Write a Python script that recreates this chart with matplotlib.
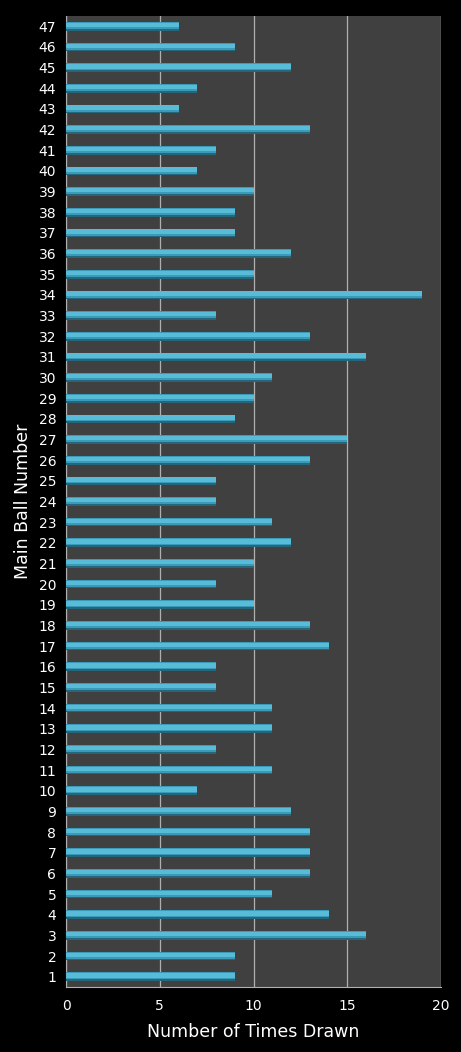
import numpy as np
import matplotlib.pyplot as plt

# ----------------------------
# Dados
# ----------------------------
balls = np.arange(1, 48)
times_drawn = [9, 9, 16, 14, 11, 13, 13, 13, 12, 7,
               11, 8, 11, 11, 8, 8, 14, 13, 10, 8,
               10, 12, 11, 8, 8, 13, 15, 9, 10, 11,
               16, 13, 8, 19, 10, 12, 9, 9, 10, 7,
               8, 13, 6, 7, 12, 9, 6]
x_ticks = [0, 5, 10, 15, 20]

# ----------------------------
# Figura
# ----------------------------
fig = plt.figure(figsize=(4.61, 10.52), dpi=100, facecolor='black')
ax = fig.add_axes([66/461, 1-987/1052, 375/461, 971/1052])
ax.set_facecolor('#404040')

h = 0.42
# barra com sombreamento simples
ax.barh(balls, times_drawn, height=h, color='#3b9ab8', edgecolor='none', zorder=3)
ax.barh(balls + h*0.15, times_drawn, height=h*0.5, color='#58bcd9', edgecolor='none', zorder=4)
ax.barh(balls - h*0.4, times_drawn, height=h*0.2, color='#24667a', edgecolor='none', zorder=5)

ax.set_xlim(0, 20)
ax.set_ylim(0.5, 47.5)
ax.set_xticks(x_ticks)
ax.set_yticks(balls)
ax.set_yticklabels([str(b) for b in balls])

ax.grid(axis='x', color='#b0b0b0', linewidth=0.9, zorder=1)
ax.tick_params(colors='white', labelsize=10, length=0, pad=7)
ax.tick_params(axis='x', pad=9)
for s in ['top', 'right']:
    ax.spines[s].set_visible(False)
for s in ['left', 'bottom']:
    ax.spines[s].set_color('#b0b0b0')

ax.set_xlabel('Number of Times Drawn', color='white', fontsize=12.5, labelpad=7)
ax.set_ylabel('Main Ball Number', color='white', fontsize=12.5, labelpad=5)

plt.savefig('out.png', facecolor='black')
